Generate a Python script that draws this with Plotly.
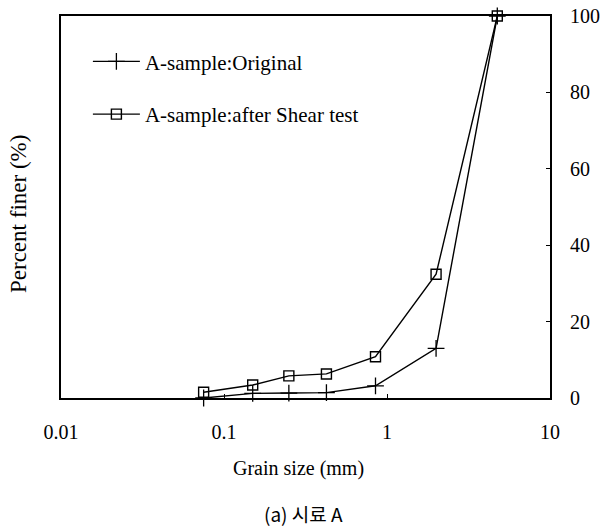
import plotly.graph_objects as go

grain_size = [0.075, 0.15, 0.25, 0.425, 0.85, 2.0, 4.75]
original = [0, 1.2, 1.3, 1.4, 3.2, 13.0, 100]
after_shear = [1.5, 3.4, 5.8, 6.3, 10.8, 32.4, 100]

x_ticks = [0.01, 0.1, 1, 10]
x_ticktext = ["0.01", "0.1", "1", "10"]
y_ticks = [0, 20, 40, 60, 80, 100]

serif = "Liberation Serif"

fig = go.Figure()
fig.add_trace(go.Scatter(
    x=grain_size, y=original, mode="lines+markers", name="A-sample:Original",
    line=dict(color="black", width=1.4),
    marker=dict(symbol="cross-thin", size=12, line=dict(color="black", width=1.3)),
    legend="legend", cliponaxis=False,
))
fig.add_trace(go.Scatter(
    x=grain_size, y=after_shear, mode="lines+markers", name="A-sample:after Shear test",
    line=dict(color="black", width=1.4),
    marker=dict(symbol="square-open", size=10, color="black", line=dict(color="black", width=1.4)),
    legend="legend2", cliponaxis=False,
))

fig.update_layout(
    width=601, height=531,
    margin=dict(l=61, r=51, t=16, b=133, autoexpand=False),
    paper_bgcolor="white", plot_bgcolor="white",
    font=dict(family=serif, size=18, color="black"),
    showlegend=True,
    legend=dict(x=0.055, y=0.934, xanchor="left", yanchor="top", itemwidth=47,
                bgcolor="rgba(0,0,0,0)", font=dict(family=serif, size=21, color="black")),
    legend2=dict(x=0.055, y=0.796, xanchor="left", yanchor="top", itemwidth=47,
                 bgcolor="rgba(0,0,0,0)", font=dict(family=serif, size=21, color="black")),
    xaxis=dict(
        type="log", range=[-2, 1], tickvals=x_ticks, ticktext=x_ticktext,
        showline=True, linecolor="black", linewidth=2, mirror=True,
        ticks="inside", ticklen=4, tickcolor="black",
        showgrid=False, zeroline=False, automargin=False,
        tickfont=dict(family=serif, size=20),
        ticklabelstandoff=15,
    ),
    yaxis=dict(
        range=[0, 100], tickvals=y_ticks, side="right",
        showline=True, linecolor="black", linewidth=2, mirror=True,
        ticks="inside", ticklen=4, tickcolor="black",
        showgrid=False, zeroline=False, automargin=False,
        tickfont=dict(family=serif, size=20),
        ticklabelstandoff=14,
    ),
)

W, H = 601, 531
l, r, t, b = 61, 51, 16, 133
pw, ph = W - l - r, H - t - b


def px_annot(text, x, y, size, family=serif, angle=0):
    return dict(text=text, xref="paper", yref="paper",
                x=(x - l) / pw, y=(H - b - y) / ph,
                xanchor="center", yanchor="middle",
                showarrow=False, textangle=angle,
                font=dict(family=family, size=size, color="black"))


fig.update_layout(annotations=[
    px_annot("Percent finer (%)", 19, 214, 23, angle=-90),
    px_annot("Grain size (mm)", 298, 469, 20),
    px_annot("(a) 시료 A", 303, 513, 19,
             family="Noto Sans CJK KR, Noto Sans, sans-serif"),
])

fig.write_html("out.html")
